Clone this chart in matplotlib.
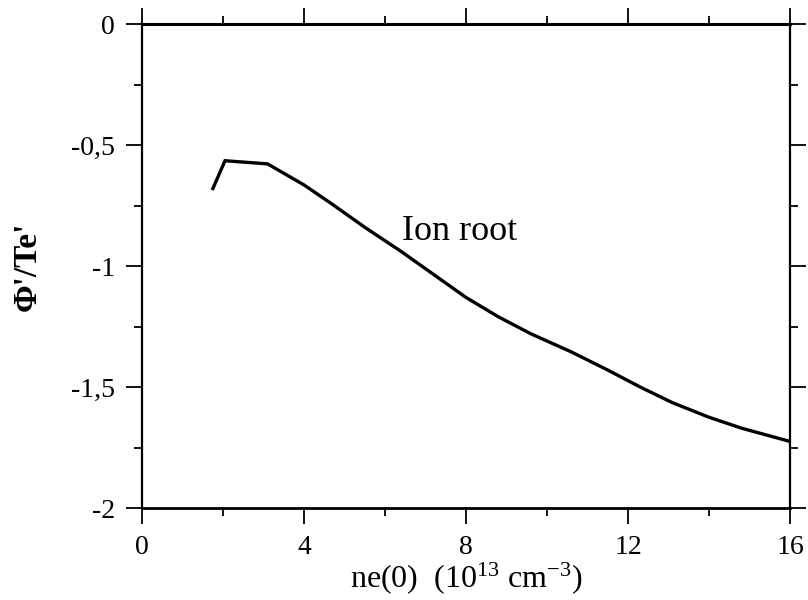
import matplotlib
matplotlib.use("Agg")
import matplotlib.pyplot as plt
from matplotlib.ticker import MultipleLocator, FixedLocator

# Data
ne0 = [1.75, 2.05, 3.1, 4.0, 4.7, 5.5, 6.4, 7.2, 8.0, 8.8, 9.6, 10.6, 11.5, 12.3, 13.1, 14.0, 14.8, 16.0]
phi_te = [-0.68, -0.565, -0.578, -0.665, -0.745, -0.84, -0.94, -1.035, -1.13, -1.21,
          -1.28, -1.355, -1.43, -1.5, -1.565, -1.625, -1.67, -1.725]
x_ticks = [0, 4, 8, 12, 16]
x_ticklabels = ["0", "4", "8", "12", "16"]
y_ticks = [0, -0.5, -1, -1.5, -2]
y_ticklabels = ["0", "-0,5", "-1", "-1,5", "-2"]
curve_label = "Ion root"

plt.rcParams['font.family'] = ['Liberation Serif', 'DejaVu Serif']
plt.rcParams['mathtext.fontset'] = 'custom'
plt.rcParams['mathtext.rm'] = 'Liberation Serif'
plt.rcParams['mathtext.it'] = 'Liberation Serif:italic'
plt.rcParams['mathtext.bf'] = 'Liberation Serif:bold'

fig = plt.figure(figsize=(8.08, 6.0), dpi=100)
ax = fig.add_axes([142/808, 1-508/600, (790-142)/808, (508-24)/600])

ax.plot(ne0, phi_te, color='black', lw=2.4, solid_joinstyle='miter')

ax.set_xlim(0, 16)
ax.set_ylim(-2, 0)

ax.xaxis.set_major_locator(FixedLocator(x_ticks))
ax.set_xticklabels(x_ticklabels)
ax.xaxis.set_minor_locator(MultipleLocator(2))
ax.yaxis.set_major_locator(FixedLocator(y_ticks))
ax.set_yticklabels(y_ticklabels)
ax.yaxis.set_minor_locator(MultipleLocator(0.25))

ax.tick_params(which='both', direction='out', top=True, right=True, width=1.3, color='black')
ax.tick_params(which='major', length=11.5, labelsize=20)
ax.tick_params(which='minor', length=5.5)
ax.tick_params(axis='y', which='major', pad=8)
ax.tick_params(axis='x', which='major', pad=8)

for s in ax.spines.values():
    s.set_linewidth(1.6)
    s.set_color('black')
ax.spines['top'].set_linewidth(2.2)
ax.spines['bottom'].set_linewidth(2.0)

ax.text(6.42, -0.893, curve_label, fontsize=26, ha='left', va='baseline')

ax.set_xlabel(r"ne(0)  (10$^{13}$ cm$^{\mathrm{-3}}$)", fontsize=23, labelpad=0)
ax.set_ylabel("Φ'/Te'", fontsize=24, fontweight='bold', labelpad=20)

fig.savefig("out.png", dpi=100)
